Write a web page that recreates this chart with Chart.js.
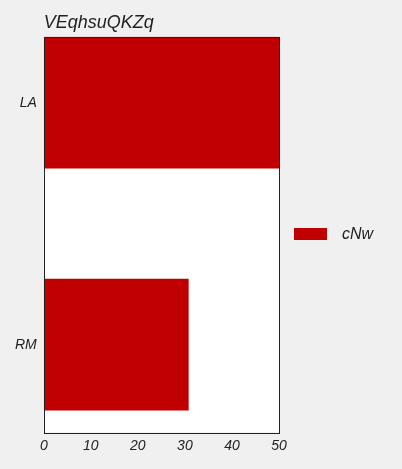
<!DOCTYPE html>
<html><head><meta charset="utf-8">
<script src="https://cdn.jsdelivr.net/npm/chart.js@4"></script>
<style>
html,body{margin:0;padding:0;background:#f0f0f0;}
#wrap{width:402px;height:469px;position:relative;}
</style></head>
<body><div id="wrap"><canvas id="c" width="402" height="469"></canvas></div>
<script>
const title = "VEqhsuQKZq";
const categories = ["LA", "RM"];
const seriesName = "cNw";
const seriesValues = [50, 30.8];
const xTicks = [0, 10, 20, 30, 40, 50];

const FONT = "'Liberation Sans', Arial, sans-serif";

const boxPlugin = {
  id: 'box',
  beforeDraw(chart) {
    const {ctx, chartArea: a} = chart;
    ctx.save();
    ctx.fillStyle = '#ffffff';
    ctx.fillRect(a.left, a.top, a.right - a.left, a.bottom - a.top);
    ctx.restore();
  },
  afterDraw(chart) {
    const {ctx, chartArea: a} = chart;
    ctx.save();
    ctx.strokeStyle = '#222';
    ctx.lineWidth = 1;
    ctx.strokeRect(Math.round(a.left) + 0.5, Math.round(a.top) + 0.5, Math.round(a.right - a.left), Math.round(a.bottom - a.top));
    // legend
    const ds = chart.data.datasets[0];
    const cy = (a.top + a.bottom) / 2;
    const bx = a.right + 15;
    ctx.fillStyle = ds.backgroundColor;
    ctx.fillRect(bx, Math.round(cy) - 6, 33, 12);
    ctx.fillStyle = '#222';
    ctx.font = "italic 16px " + FONT;
    ctx.textBaseline = 'middle';
    ctx.textAlign = 'left';
    ctx.fillText(ds.label, bx + 48, cy);
    ctx.restore();
  }
};

new Chart(document.getElementById('c'), {
  type: 'bar',
  data: {
    datasets: [{
      label: seriesName,
      data: categories.map((c, i) => ({x: seriesValues[i], y: i})),
      backgroundColor: '#c00000',
      borderWidth: 0,
      barPercentage: 0.545,
      categoryPercentage: 1.0
    }]
  },
  options: {
    indexAxis: 'y',
    responsive: false,
    animation: false,
    devicePixelRatio: 1,
    layout: {padding: {left: 8, right: 123, top: 0, bottom: 8}},
    plugins: {
      title: {
        display: true, text: title, align: 'start', fullSize: false,
        color: '#222', font: {family: FONT, size: 18, style: 'italic', weight: 'normal'},
        padding: {top: 12, bottom: 3}
      },
      legend: {display: false},
      tooltip: {enabled: false}
    },
    scales: {
      x: {
        type: 'linear', min: 0, max: 50,
        afterBuildTicks: s => { s.ticks = xTicks.map(v => ({value: v})); },
        grid: {display: false, drawTicks: false},
        border: {display: false},
        ticks: {color: '#222', font: {family: FONT, size: 14, style: 'italic'}, padding: 6, maxRotation: 0}
      },
      y: {
        type: 'linear', reverse: true, min: -0.273, max: 1.362, offset: false,
        afterBuildTicks: s => { s.ticks = categories.map((c, i) => ({value: i})); },
        grid: {display: false, drawTicks: false, offset: false},
        border: {display: false},
        ticks: {color: '#222', font: {family: FONT, size: 14, style: 'italic'}, padding: 7,
          callback: v => categories[v]}
      }
    }
  },
  plugins: [boxPlugin]
});
</script></body></html>
